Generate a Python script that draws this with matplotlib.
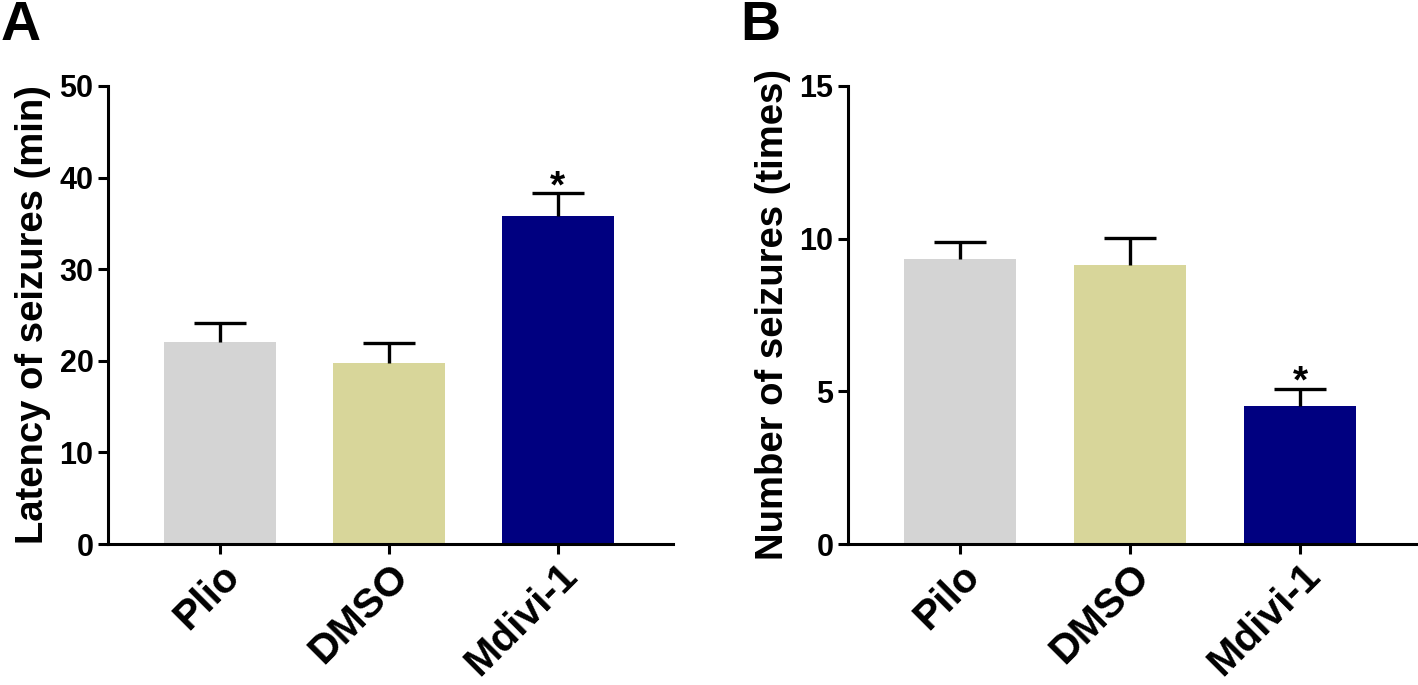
import matplotlib
matplotlib.use("Agg")
import matplotlib.pyplot as plt
import numpy as np

plt.rcParams['font.family'] = ['Liberation Sans Narrow', 'Liberation Sans', 'DejaVu Sans']
plt.rcParams['font.weight'] = 'bold'

# panel A in the source figure spells the first group "Plio"
groups_a = ['Plio', 'DMSO', 'Mdivi-1']
groups_b = ['Pilo', 'DMSO', 'Mdivi-1']
bar_colors = ['#d4d4d4', '#d8d69a', '#000080']

latency = [22.0, 19.8, 35.8]
latency_err = [2.1, 2.1, 2.5]
latency_sig = ['', '', '*']

count = [9.33, 9.13, 4.53]
count_err = [0.55, 0.88, 0.56]
count_sig = ['', '', '*']

fig = plt.figure(figsize=(14.18, 6.85), dpi=100)
axA = fig.add_axes([0.0762, 0.2058, 0.3984, 0.6687])
axB = fig.add_axes([0.598, 0.2058, 0.4006, 0.6687])

SANS = ['Liberation Sans', 'DejaVu Sans']


def draw(ax, groups, vals, errs, sig, ymax, step, ylabel, letter):
    x = np.arange(len(vals))
    ax.bar(x, vals, width=0.66, color=bar_colors, zorder=2)
    eb = ax.errorbar(x, vals, yerr=[np.zeros(len(vals)), errs], fmt='none',
                     ecolor='black', elinewidth=2.4, capsize=19, capthick=2.4, zorder=3)
    # only the upper cap is shown
    eb[1][0].set_visible(False)
    for xi, v, e, s in zip(x, vals, errs, sig):
        if s:
            ax.annotate(s, (xi, v + e), xytext=(0, -3), textcoords='offset points',
                        ha='center', va='baseline', fontsize=28, fontweight='bold',
                        family=SANS)
    ax.set_xlim(-0.66, 2.68)
    ax.set_ylim(0, ymax)
    ax.set_yticks(np.arange(0, ymax + 0.1, step))
    ax.set_xticks(x)
    ax.set_xticklabels(groups, rotation=45, ha='right', rotation_mode='anchor',
                       fontsize=29.5, fontweight='bold', family=SANS)
    ax.tick_params(axis='y', labelsize=22, width=2.2, length=7, direction='out')
    ax.tick_params(axis='x', width=2.2, length=7, direction='out', pad=2)
    for lab in ax.get_yticklabels():
        lab.set_fontweight('bold')
    ax.spines['top'].set_visible(False)
    ax.spines['right'].set_visible(False)
    ax.spines['left'].set_linewidth(2.2)
    ax.spines['bottom'].set_linewidth(2.2)
    ax.set_ylabel(ylabel, fontsize=27.5, fontweight='bold', labelpad=6, family=SANS)
    ax.text(-0.19, 1.13, letter, transform=ax.transAxes, fontsize=40, fontweight='bold',
            ha='left', va='center', family=SANS)


draw(axA, groups_a, latency, latency_err, latency_sig, 50, 10, 'Latency of seizures (min)', 'A')
draw(axB, groups_b, count, count_err, count_sig, 15, 5, 'Number of seizures (times)', 'B')

fig.savefig('out.png', dpi=100)
